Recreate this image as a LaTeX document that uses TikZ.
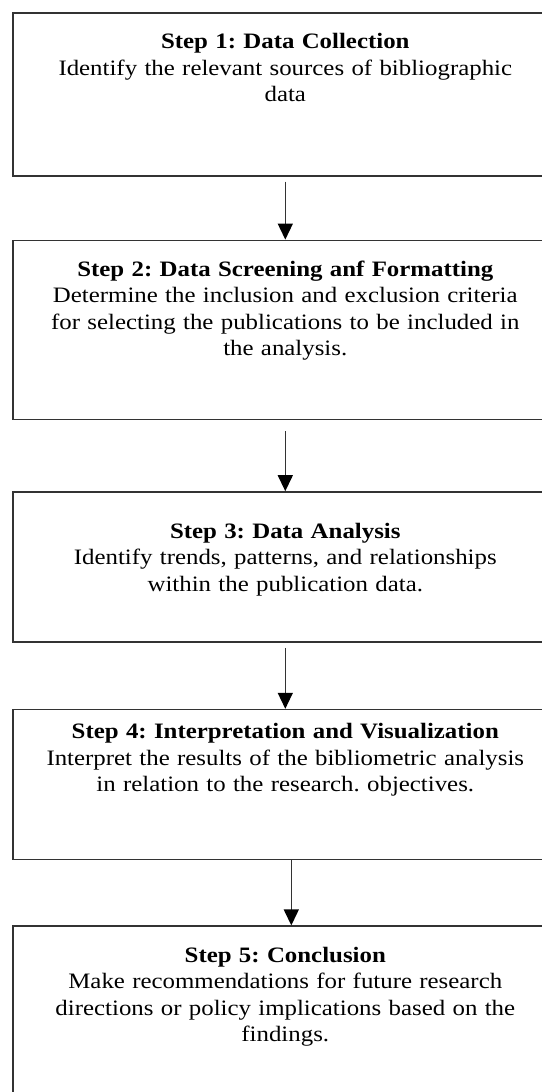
\documentclass[tikz,border=0pt]{standalone}
\usepackage{fontspec}
\setmainfont[FakeStretch=1.13]{Liberation Serif}
\usepackage{xcolor}
\usepackage{tikz}
\usetikzlibrary{
    arrows.meta,
    positioning
}

\definecolor{framegray}{HTML}{333333}

\begin{document}
\frenchspacing
\begin{tikzpicture}[
        node distance=63pt,
        stepbox/.style={
            rectangle,
            draw=framegray,
            line width=1.6pt,
            align=center,
            inner sep=0pt,
            text width=545pt,
            text height=36pt,
            font=\fontsize{22}{26.5}\selectfont
        },
        line/.style={
            -{Triangle[length=16pt,width=15pt,color=black]},
            draw=framegray,
            line width=1.4pt
        }
    ]

    \useasboundingbox (0,0) rectangle (541pt,-1092pt);

    \node[stepbox, anchor=north west, text depth=127pt] (collect)
        at (12pt,-12pt)
        {\textbf{Step 1: Data Collection}\\
         Identify the relevant sources of bibliographic\\
         data};

    \node[stepbox, below=63pt of collect, text depth=143pt] (screen)
        {\textbf{Step 2: Data Screening anf Formatting}\\
         Determine the inclusion and exclusion criteria\\
         for selecting the publications to be included in\\
         the analysis.};

    \node[stepbox, below=71pt of screen, text height=46pt, text depth=104pt] (analysis)
        {\textbf{Step 3: Data Analysis}\\
         Identify trends, patterns, and relationships\\
         within the publication data.};

    \node[stepbox, below=66pt of analysis, text height=29pt, text depth=121pt] (interpret)
        {\textbf{Step 4: Interpretation and Visualization}\\
         Interpret the results of the bibliometric analysis\\
         in relation to the research. objectives.};

    \node[stepbox, below=65pt of interpret, text height=36pt, text depth=164pt] (conclude)
        {\textbf{Step 5: Conclusion}\\
         Make recommendations for future research\\
         directions or policy implications based on the\\
         findings.};

    \draw[line, shorten <=5pt] (collect) -- (screen);
    \draw[line, shorten <=11pt] (screen) -- (analysis);
    \draw[line, shorten <=5pt] (analysis) -- (interpret);
    \draw[line]
        ([xshift=6pt]interpret.south)
        --
        ([xshift=6pt]conclude.north);

    \end{tikzpicture}
\end{document}
